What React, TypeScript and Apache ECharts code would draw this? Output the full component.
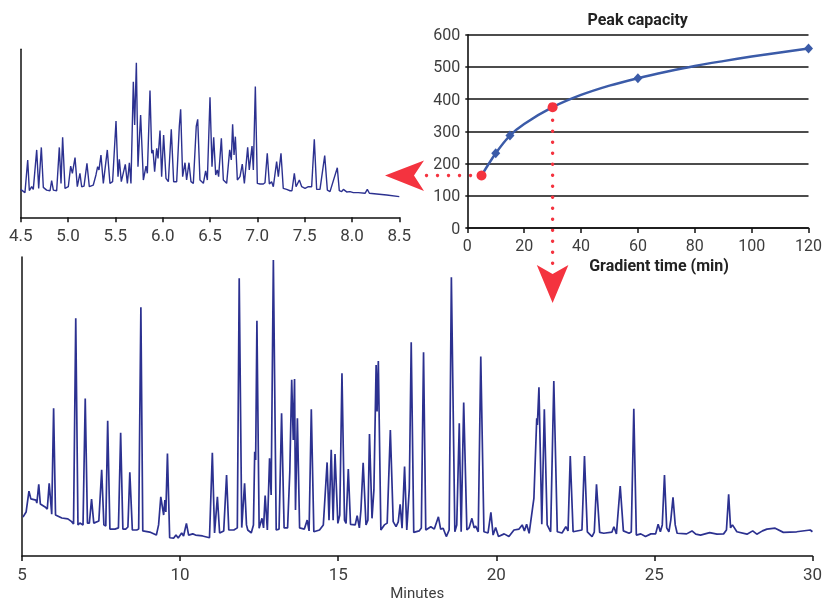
import React, { useEffect, useRef } from 'react';
import * as echarts from 'echarts';

// ---- Inset chromatogram (4.5 – 8.5 min, 5 min gradient) ----
const insetTimes = [
  4.50, 4.545, 4.574, 4.591, 4.616, 4.633, 4.669, 4.690, 4.718, 4.739,
  4.774, 4.810, 4.827, 4.845, 4.880, 4.908, 4.926, 4.943, 4.968, 5.003,
  5.028, 5.046, 5.074, 5.098, 5.126, 5.144, 5.169, 5.200, 5.225, 5.267,
  5.295, 5.313, 5.327, 5.348, 5.373, 5.415, 5.443, 5.471, 5.507, 5.528,
  5.542, 5.563, 5.605, 5.627, 5.648, 5.665, 5.690, 5.704, 5.722, 5.739,
  5.767, 5.796, 5.824, 5.838, 5.866, 5.884, 5.898, 5.915, 5.937, 5.951,
  5.972, 5.989, 6.010, 6.035, 6.060, 6.091, 6.116, 6.148, 6.176, 6.190,
  6.211, 6.236, 6.253, 6.278, 6.299, 6.324, 6.355, 6.370, 6.394, 6.430,
  6.454, 6.472, 6.500, 6.521, 6.539, 6.560, 6.577, 6.591, 6.620, 6.641,
  6.676, 6.708, 6.725, 6.739, 6.754, 6.768, 6.789, 6.817, 6.841, 6.863,
  6.898, 6.915, 6.944, 6.958, 6.979, 7.000, 7.028, 7.063, 7.081, 7.105,
  7.127, 7.151, 7.169, 7.204, 7.222, 7.250, 7.274, 7.310, 7.345, 7.366,
  7.391, 7.409, 7.444, 7.469, 7.504, 7.539, 7.574, 7.602, 7.627, 7.662,
  7.712, 7.740, 7.768, 7.845, 7.866, 7.891, 7.909, 7.944, 7.979, 8.014,
  8.067, 8.138, 8.162, 8.184, 8.261, 8.367, 8.50,
];
const insetSignal = [
  16.6, 14.7, 34.1, 15.9, 18.2, 16.6, 40.1, 17.2, 41.6, 17.8,
  16.2, 15.8, 21.8, 16.2, 15.8, 41.6, 20.2, 47.6, 17.2, 18.2,
  30.5, 26.2, 35.5, 18.2, 26.2, 18.2, 18.6, 32.1, 18.2, 19.2,
  25.2, 30.1, 28.2, 37.1, 20.2, 40.1, 20.2, 21.2, 57.3, 24.2,
  34.5, 21.2, 31.5, 20.2, 32.5, 20.2, 80.7, 54.9, 92.0, 30.1,
  60.9, 22.2, 30.5, 26.2, 75.4, 38.1, 40.1, 27.2, 41.0, 35.1,
  51.6, 24.2, 49.0, 23.2, 21.2, 52.4, 21.2, 21.2, 54.3, 64.3,
  24.2, 32.5, 22.2, 32.5, 21.2, 20.2, 54.3, 58.3, 22.2, 20.2,
  27.6, 22.2, 71.4, 30.1, 47.6, 25.2, 28.2, 24.2, 47.0, 22.2,
  20.2, 40.1, 34.1, 55.3, 37.1, 48.0, 22.2, 24.2, 31.7, 20.2,
  41.6, 28.2, 42.4, 28.2, 77.8, 20.2, 19.8, 19.8, 20.6, 38.1,
  19.8, 21.2, 18.2, 33.1, 24.2, 38.1, 17.2, 16.6, 15.8, 15.8,
  26.2, 18.2, 22.2, 18.2, 17.2, 18.2, 18.2, 46.4, 16.6, 16.6,
  36.7, 16.2, 15.3, 29.5, 15.9, 15.3, 16.6, 15.1, 15.3, 14.7,
  14.7, 14.3, 16.6, 14.3, 13.9, 13.3, 12.3,
];

// ---- Main chromatogram (5 – 30 min, 30 min gradient) ----
const mainTimes = [
  5.03, 5.13, 5.22, 5.28, 5.44, 5.47, 5.53, 5.58, 5.73, 5.80,
  5.86, 5.94, 6.00, 6.06, 6.26, 6.45, 6.57, 6.63, 6.70, 6.77,
  6.83, 6.93, 7.00, 7.07, 7.13, 7.20, 7.27, 7.43, 7.52, 7.59,
  7.65, 7.71, 7.78, 7.94, 8.05, 8.12, 8.19, 8.28, 8.35, 8.41,
  8.49, 8.63, 8.69, 8.76, 8.82, 9.04, 9.25, 9.32, 9.39, 9.48,
  9.52, 9.55, 9.60, 9.67, 9.80, 9.87, 9.94, 10.05, 10.11, 10.20,
  10.27, 10.40, 10.49, 10.71, 10.93, 11.02, 11.09, 11.18, 11.25, 11.38,
  11.47, 11.54, 11.70, 11.81, 11.87, 11.95, 12.04, 12.10, 12.14, 12.25,
  12.32, 12.36, 12.39, 12.43, 12.50, 12.59, 12.64, 12.69, 12.76, 12.83,
  12.88, 12.95, 13.04, 13.13, 13.21, 13.29, 13.40, 13.47, 13.53, 13.58,
  13.62, 13.65, 13.71, 13.78, 13.93, 14.02, 14.08, 14.15, 14.23, 14.41,
  14.53, 14.65, 14.71, 14.78, 14.84, 14.90, 14.99, 15.05, 15.12, 15.20,
  15.25, 15.32, 15.39, 15.54, 15.60, 15.67, 15.72, 15.79, 15.88, 15.94,
  15.99, 16.07, 16.13, 16.20, 16.23, 16.27, 16.35, 16.46, 16.55, 16.65,
  16.74, 16.83, 16.90, 16.96, 17.02, 17.10, 17.17, 17.25, 17.31, 17.39,
  17.56, 17.63, 17.70, 17.77, 17.93, 18.04, 18.17, 18.24, 18.32, 18.42,
  18.51, 18.58, 18.69, 18.75, 18.83, 18.89, 18.97, 19.07, 19.14, 19.23,
  19.30, 19.35, 19.43, 19.51, 19.61, 19.74, 19.83, 19.90, 19.98, 20.07,
  20.25, 20.40, 20.56, 20.72, 20.82, 20.89, 20.96, 21.04, 21.19, 21.28,
  21.30, 21.35, 21.44, 21.52, 21.61, 21.72, 21.82, 21.93, 22.08, 22.20,
  22.27, 22.34, 22.43, 22.71, 22.79, 22.88, 23.03, 23.10, 23.17, 23.27,
  23.40, 23.66, 23.72, 23.80, 23.92, 24.02, 24.20, 24.27, 24.35, 24.43,
  24.57, 24.72, 24.89, 25.04, 25.12, 25.19, 25.25, 25.32, 25.39, 25.46,
  25.52, 25.59, 25.66, 25.72, 26.02, 26.19, 26.31, 26.46, 26.75, 26.98,
  27.19, 27.28, 27.35, 27.41, 27.47, 27.61, 27.93, 28.11, 28.24, 28.42,
  28.56, 28.82, 29.08, 29.50, 29.93, 30.00,
];
const mainSignal = [
  13.0, 14.7, 21.7, 19.1, 18.7, 17.7, 24.0, 17.4, 16.4, 15.7,
  24.3, 14.0, 49.4, 13.7, 12.7, 12.4, 11.5, 10.7, 79.5, 10.4,
  11.0, 10.4, 52.7, 11.0, 11.0, 19.0, 11.0, 11.7, 28.8, 10.4,
  10.0, 45.2, 9.0, 9.0, 9.4, 41.2, 9.0, 9.0, 9.7, 28.0,
  8.7, 8.7, 9.0, 83.2, 8.4, 8.0, 7.0, 10.4, 19.8, 13.7,
  18.7, 14.7, 34.3, 6.1, 6.0, 7.0, 6.0, 7.7, 6.7, 10.9,
  7.0, 7.4, 7.0, 6.7, 6.1, 34.5, 7.7, 19.8, 7.7, 8.4,
  27.1, 8.7, 8.7, 9.4, 92.9, 9.5, 24.3, 10.4, 8.7, 7.7,
  10.4, 34.9, 32.1, 78.7, 9.3, 12.6, 9.4, 20.2, 8.7, 32.7,
  20.4, 99.0, 8.7, 9.0, 47.7, 9.4, 9.4, 28.2, 58.9, 38.8,
  59.2, 15.4, 46.1, 9.4, 9.0, 12.0, 8.4, 49.1, 8.1, 8.7,
  10.4, 31.3, 12.0, 35.5, 12.0, 34.1, 10.9, 13.7, 61.1, 12.0,
  10.9, 29.1, 10.6, 10.4, 13.5, 9.4, 15.4, 31.2, 10.4, 12.0,
  40.8, 12.6, 22.1, 63.9, 48.3, 65.2, 8.7, 10.4, 11.0, 42.1,
  11.5, 9.8, 11.4, 17.3, 9.3, 29.9, 8.7, 22.6, 71.5, 7.9,
  8.4, 9.4, 68.1, 8.7, 9.8, 9.0, 13.1, 9.0, 9.3, 6.5,
  8.7, 93.2, 8.1, 10.4, 44.4, 8.1, 51.3, 8.7, 9.4, 12.6,
  9.4, 10.0, 8.1, 66.7, 8.1, 7.7, 14.6, 7.0, 9.5, 6.5,
  7.4, 6.5, 8.7, 9.0, 10.4, 8.4, 10.6, 7.6, 19.3, 46.1,
  43.8, 56.4, 10.6, 49.1, 10.4, 8.1, 58.5, 8.1, 7.7, 9.8,
  8.4, 33.4, 8.1, 8.7, 33.4, 8.1, 6.5, 8.0, 24.0, 7.9,
  7.6, 8.0, 9.8, 7.4, 23.4, 8.4, 7.6, 8.0, 49.2, 7.0,
  7.4, 6.5, 7.4, 7.4, 10.6, 8.1, 10.4, 27.1, 9.4, 8.1,
  12.0, 19.6, 10.4, 7.6, 7.4, 8.4, 7.3, 7.0, 7.8, 7.3,
  7.4, 8.7, 20.6, 9.4, 10.4, 8.1, 7.3, 8.4, 7.3, 8.4,
  9.0, 9.3, 7.9, 8.1, 8.7, 8.1,
];

// ---- Peak capacity vs gradient time ----
const gradientTimes = [5, 10, 15, 30, 60, 120];
const peakCapacity = [163, 232, 287, 375, 465, 557];
const highlightedTimes = [5, 30];
// fitted trend curve
const fitTimes = [5, 10, 15, 20, 30, 40, 50, 60, 70, 80, 90, 100, 110, 120];
const fitCapacity = [163, 232, 287, 323, 375, 413, 442, 465, 485, 503, 518, 532, 545, 557];

const insetTicks = { min: 4.5, max: 8.5, interval: 0.5 };
const mainTicks = { min: 5, max: 30, interval: 5 };
const capXTicks = { min: 0, max: 120, interval: 20 };
const capYTicks = { min: 0, max: 600, interval: 100 };

const NAVY = '#2c3190';
const BLUE = '#3b5ba8';
const RED = '#f4333f';
const LABEL = '#3d3d3d';
const FONT = 'Roboto, "Liberation Sans", sans-serif';

function zip(xs: number[], ys: number[]) {
  const n = Math.min(xs.length, ys.length);
  const out: number[][] = [];
  for (let i = 0; i < n; i++) out.push([xs[i], ys[i]]);
  return out;
}

export default function App() {
  const ref = useRef<HTMLDivElement>(null);

  useEffect(() => {
    if (!ref.current) return;
    const chart = echarts.init(ref.current, null, { renderer: 'svg' });

    const capPairs = zip(gradientTimes, peakCapacity);
    const diamonds = capPairs.filter((p) => highlightedTimes.indexOf(p[0]) < 0);
    const reds = capPairs.filter((p) => highlightedTimes.indexOf(p[0]) >= 0);

    const chromAxisLine = { show: true, lineStyle: { color: '#111', width: 1.5 } };

    chart.setOption({
      animation: false,
      textStyle: { fontFamily: FONT },
      grid: [
        { left: 20.7, top: 49.3, width: 378.6, height: 168 },
        { left: 467.3, top: 34.7, width: 341.7, height: 193.3 },
        { left: 22, top: 257, width: 792, height: 299 },
      ],
      xAxis: [
        {
          gridIndex: 0, type: 'value', ...insetTicks,
          axisLine: chromAxisLine,
          axisTick: { show: true, length: 5, lineStyle: { color: '#111', width: 1.5 } },
          axisLabel: { color: LABEL, fontSize: 17, margin: 9, formatter: (v: number) => v.toFixed(1) },
          splitLine: { show: false },
        },
        {
          gridIndex: 1, type: 'value', ...capXTicks,
          axisLine: { show: true, lineStyle: { color: '#111', width: 1.6 } },
          axisTick: { show: true, length: 5, lineStyle: { color: '#111', width: 1.5 } },
          axisLabel: { color: LABEL, fontSize: 16, margin: 9 },
          splitLine: { show: false },
        },
        {
          gridIndex: 2, type: 'value', ...mainTicks,
          axisLine: chromAxisLine,
          axisTick: { show: true, length: 5, lineStyle: { color: '#111', width: 1.5 } },
          axisLabel: { color: LABEL, fontSize: 17, margin: 9 },
          splitLine: { show: false },
          name: 'Minutes',
          nameLocation: 'middle',
          nameGap: 29,
          nameTextStyle: { color: LABEL, fontSize: 15 },
        },
      ],
      yAxis: [
        {
          gridIndex: 0, type: 'value', min: 0, max: 100,
          axisLine: chromAxisLine, axisTick: { show: false }, axisLabel: { show: false },
          splitLine: { show: false },
        },
        {
          gridIndex: 1, type: 'value', ...capYTicks,
          axisLine: { show: true, lineStyle: { color: '#111', width: 1.6 } },
          axisTick: { show: true, length: 2, lineStyle: { color: '#111', width: 1.5 } },
          axisLabel: { color: LABEL, fontSize: 16, margin: 7 },
          splitLine: { show: true, lineStyle: { color: '#111', width: 1.6 } },
        },
        {
          gridIndex: 2, type: 'value', min: 0, max: 100,
          axisLine: chromAxisLine, axisTick: { show: false }, axisLabel: { show: false },
          splitLine: { show: false },
        },
      ],
      series: [
        {
          type: 'line', xAxisIndex: 0, yAxisIndex: 0, data: zip(insetTimes, insetSignal),
          symbol: 'none', lineStyle: { color: NAVY, width: 1.4 },
        },
        {
          type: 'line', xAxisIndex: 2, yAxisIndex: 2, data: zip(mainTimes, mainSignal),
          symbol: 'none', lineStyle: { color: NAVY, width: 1.7 },
        },
        {
          type: 'line', xAxisIndex: 1, yAxisIndex: 1, data: zip(fitTimes, fitCapacity),
          smooth: 0.3,
          symbol: 'none', lineStyle: { color: BLUE, width: 2.5 }, z: 3,
        },
        {
          type: 'scatter', xAxisIndex: 1, yAxisIndex: 1, data: diamonds,
          symbol: 'diamond', symbolSize: [9, 10], itemStyle: { color: BLUE, opacity: 1 }, z: 4,
        },
        {
          type: 'scatter', xAxisIndex: 1, yAxisIndex: 1, data: reds,
          symbol: 'circle', symbolSize: 10, itemStyle: { color: RED, opacity: 1 }, z: 5,
        },
      ],
    });

    const pA = chart.convertToPixel({ gridIndex: 1 }, reds[0]) as number[];
    const pB = chart.convertToPixel({ gridIndex: 1 }, reds[1]) as number[];

    const graphics: any[] = [];
    // horizontal dotted guide to the inset
    const leftTip = 385;
    for (let x = pA[0] - 11; x >= leftTip + 38; x -= 11) {
      graphics.push({ type: 'circle', shape: { cx: x, cy: pA[1], r: 1.7 }, style: { fill: RED } });
    }
    graphics.push({
      type: 'polygon',
      shape: {
        points: [
          [leftTip, pA[1]], [leftTip + 39, pA[1] - 15], [leftTip + 29, pA[1]], [leftTip + 39, pA[1] + 15.5],
        ],
      },
      style: { fill: RED },
    });
    // vertical dotted guide to the main chromatogram
    const downTip = 303;
    for (let y = pB[1] + 13; y <= downTip - 37; y += 11) {
      graphics.push({ type: 'circle', shape: { cx: pB[0], cy: y, r: 1.7 }, style: { fill: RED } });
    }
    graphics.push({
      type: 'polygon',
      shape: {
        points: [
          [pB[0], downTip], [pB[0] - 15.8, downTip - 38], [pB[0], downTip - 29], [pB[0] + 15.8, downTip - 38],
        ],
      },
      style: { fill: RED },
    });
    graphics.push({
      type: 'text', x: 637.7, y: 19,
      style: { text: 'Peak capacity', fill: '#222', fontSize: 16, fontWeight: 'bold', fontFamily: FONT, align: 'center', verticalAlign: 'middle' },
    });
    graphics.push({
      type: 'text', x: 659, y: 265,
      style: { text: 'Gradient time (min)', fill: '#222', fontSize: 16, fontWeight: 'bold', fontFamily: FONT, align: 'center', verticalAlign: 'middle' },
    });

    chart.setOption({ graphic: graphics });

    return () => chart.dispose();
  }, []);

  return <div ref={ref} style={{ position: 'fixed', left: 0, top: 0, width: 825, height: 603 }} />;
}
